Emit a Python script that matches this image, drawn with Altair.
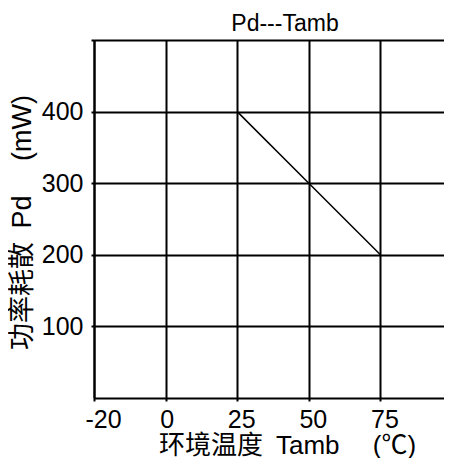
import altair as alt
import pandas as pd

# data
temp_c = [25, 50, 75]
power_mw = [400, 300, 200]

x_tick_values = [-25, 0, 25, 50, 75]
x_tick_labels = ["-20", "0", "25", "50", "75"]
y_tick_values = [100, 200, 300, 400, 500]
y_tick_labels = ["100", "200", "300", "400", ""]

df = pd.DataFrame({"Tamb": temp_c, "Pd": power_mw})

FONT = "Liberation Sans, Arial, Noto Sans CJK SC"

x_label_expr = " : ".join(
    [f"datum.value == {v} ? '{l}'" for v, l in zip(x_tick_values, x_tick_labels)] + ["''"]
)
y_label_expr = " : ".join(
    [f"datum.value == {v} ? '{l}'" for v, l in zip(y_tick_values, y_tick_labels)] + ["''"]
)

chart = (
    alt.Chart(df)
    .mark_line(color="black", strokeWidth=1.5)
    .encode(
        x=alt.X(
            "Tamb:Q",
            scale=alt.Scale(domain=[-25, 97.2], nice=False, zero=False),
            axis=alt.Axis(
                values=x_tick_values,
                labelExpr=x_label_expr,
                title="环境温度\u2002Tamb\u3000\u00a0(℃)",
                labelFlush=False,
                labelOffset={
                    "condition": [
                        {"test": "datum.value == -25", "value": 9},
                        {"test": "datum.value == 0", "value": 1},
                    ],
                    "value": 4,
                },
                labelPadding=6,
                titlePadding=0,
                titleX=193,
                titleFontSize=26,
            ),
        ),
        y=alt.Y(
            "Pd:Q",
            scale=alt.Scale(domain=[0, 500], nice=False),
            axis=alt.Axis(
                values=y_tick_values,
                labelExpr=y_label_expr,
                title="功率耗散\u2002Pd\u3000\u00a0(mW)",
                labelPadding=8,
                titlePadding=5,
                titleFontSize=27,
                titleY=182,
            ),
        ),
    )
    .properties(
        width=350,
        height=358,
        title=alt.Title("Pd---Tamb", fontSize=23, font=FONT, fontWeight="normal", offset=3, dx=16),
        autosize="none",
        padding={"left": 86, "top": 32, "right": 0, "bottom": 60},
    )
    .configure_view(stroke="transparent")
    .configure_axis(
        grid=True,
        gridColor="black",
        gridWidth=2,
        gridOpacity=1,
        domainColor="black",
        domainWidth=2,
        tickColor="black",
        tickWidth=2,
        tickSize=3,
        labelFont=FONT,
        labelFontSize=25,
        labelColor="black",
        titleFont=FONT,
        titleFontSize=25,
        titleFontWeight="normal",
        titleColor="black",
    )
    .configure_title(color="black", anchor="middle")
)

chart.save("out.html", embed_options={"renderer": "svg", "actions": False})
